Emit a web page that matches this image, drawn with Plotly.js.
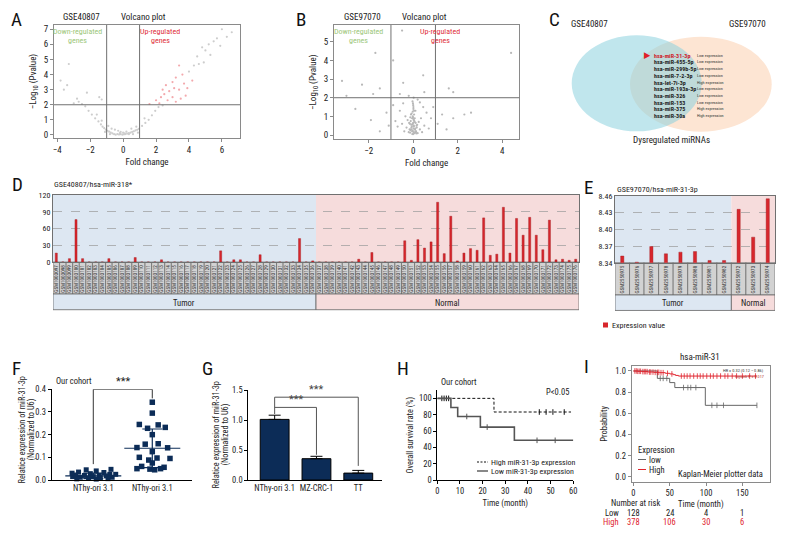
<!DOCTYPE html>
<html><head><meta charset="utf-8">
<script src="https://cdn.plot.ly/plotly-3.0.1.min.js"></script>
<style>html,body{margin:0;padding:0;background:#fff}#chart{width:792px;height:540px}</style>
</head><body><div id="chart"></div>
<script>
// ---------------- DATA ----------------
// A: volcano GSE40807
const volcA_greyX = [-0.55,-0.45,-0.35,-0.25,-0.15,-0.05,0.05,0.15,0.25,0.35,0.45,0.55,0.65,0.75,0.85,0.95,-0.65,-0.75,-0.85,-0.95,-1.05,-1.15,-1.25,-1.35,-1.5,-1.7,-1.9,-2.1,-0.3,0.2,-0.5,0.5,1.15,1.35,1.55,1.75,1.95,2.15,0.0,-0.15,0.35,-0.7,-1.6,-0.9,0.8,-0.2,0.1,-1.3,1.3,-2.3,2.4,0.6,-0.8,0.9,-1.1,-3.3,-3.8,-3.4,-2.8,-2.7,-2.2,-1.45,-1.3,-3.0,-2.5,-3.6,4.3,4.6,4.9,4.8,5.0,5.2,5.5,5.7,5.9,6.0,6.6,4.0,5.3,6.3,4.5];
const volcA_greyY = [0.05,0.02,0.06,0.03,0.05,0.02,0.04,0.06,0.09,0.12,0.15,0.2,0.24,0.3,0.34,0.4,0.1,0.15,0.22,0.28,0.35,0.45,0.55,0.7,0.9,1.1,1.35,1.6,0.28,0.22,0.35,0.42,0.6,0.8,1.0,1.3,1.6,1.85,0.15,0.2,0.05,0.42,1.35,0.6,0.55,0.12,0.1,0.95,1.1,1.9,1.95,0.05,0.05,0.15,0.2,4.7,3.6,3.3,2.4,2.2,2.8,2.5,2.35,2.1,2.05,3.0,4.6,4.7,4.8,5.8,5.6,6.0,6.2,6.4,5.9,7.0,6.8,4.2,5.3,6.5,5.2];
const volcA_redX = [1.6,2.0,2.3,2.4,2.5,2.6,2.8,3.0,3.0,3.2,3.2,3.4,3.4,3.6,3.8,3.9,2.2,3.5,4.2,2.7,3.1,3.7];
const volcA_redY = [2.05,2.3,2.5,3.0,2.7,3.3,2.9,3.5,2.5,3.8,2.2,3.0,4.6,4.0,2.6,3.1,2.1,2.4,3.6,2.3,3.1,3.4];
// B: volcano GSE97070
const volcB_X = [0,0.02,-0.02,0.01,0.03,-0.03,0,0.02,-0.01,0.04,-0.02,0.01,0,-0.03,0.02,0.1,-0.1,0.15,-0.15,0.2,-0.2,0.25,-0.25,0.3,-0.3,0.35,-0.35,0.4,-0.4,0.5,-0.5,0.6,-0.6,0.7,-0.7,0.8,-0.8,0.9,-0.9,1.1,-1.1,1.3,-1.2,0.45,-0.45,0.1,-0.1,0.2,-0.2,0.05,-0.05,0.3,-0.6,0.5,1.5,-1.5,1.8,2.3,-1.9,-1.7,-2.3,-3.2,-3.0,-1.5,-1.8,-0.5,-0.9,4.4,1.8,1.6,-0.45,0.45,-2.6,2.6,
  0.05,-0.05,0.08,-0.08,0.12,-0.12,0.03,-0.03,0.06,-0.06,0.09,-0.09,0.14,-0.14,0.02,-0.02,0.07,-0.07,0.11,-0.11,0.04,-0.04,0.16,-0.16,0.01,-0.01,0.13,-0.13,0.18,-0.18];
const volcB_Y = [0.05,0.15,0.25,0.35,0.45,0.55,0.65,0.8,0.95,1.1,1.25,1.4,1.6,1.8,2.0,0.2,0.3,0.5,0.6,0.1,0.15,0.7,0.8,0.3,0.4,0.9,1.0,0.15,0.2,0.5,0.6,1.2,1.3,0.35,0.45,0.9,0.75,1.5,1.6,0.6,0.5,1.1,1.2,1.5,1.7,1.3,1.1,1.9,2.1,0.75,0.9,1.75,2.2,2.3,0.3,0.2,0.9,1.1,0.8,4.4,2.7,2.9,2.1,2.5,2.2,5.6,4.0,4.4,2.3,2.5,2.8,3.2,1.4,1.2,
  0.1,0.2,0.3,0.4,0.15,0.25,0.5,0.6,0.7,0.45,0.35,0.55,0.08,0.12,0.85,1.0,0.9,1.15,0.65,0.75,1.3,0.05,0.4,0.3,1.5,1.7,0.2,0.95,0.55,0.65];
// C: Venn list
const vennNames = ['hsa-miR-31-3p','hsa-miR-455-5p','hsa-miR-299b-5p','hsa-miR-7-2-3p','hsa-let-7i-3p','hsa-miR-193a-3p','hsa-miR-326','hsa-miR-153','hsa-miR-375','hsa-miR-30a'];
const vennExpr = ['Low expression','Low expression','Low expression','Low expression','High expression','Low expression','Low expression','Low expression','High expression','High expression'];
// D: GSE40807 / hsa-miR-318*
const dTumorLabels = ['GSM1003097','GSM1003098','GSM1003099','GSM1003100','GSM1003101','GSM1003102','GSM1003103','GSM1003104','GSM1003105','GSM1003106','GSM1003107','GSM1003108','GSM1003109','GSM1003110','GSM1003111','GSM1003112','GSM1003113','GSM1003114','GSM1003115','GSM1003116','GSM1003117','GSM1003118','GSM1003119','GSM1003120','GSM1003121','GSM1003122','GSM1003123','GSM1003124','GSM1003125','GSM1003126','GSM1003127','GSM1003128','GSM1003129','GSM1003130','GSM1003131','GSM1003132','GSM1003133','GSM1003134','GSM1003135','GSM1003136'];
const dNormalLabels = ['GSM1003137','GSM1003138','GSM1003139','GSM1003140','GSM1003141','GSM1003142','GSM1003143','GSM1003144','GSM1003145','GSM1003146','GSM1003147','GSM1003148','GSM1003149','GSM1003150','GSM1003151','GSM1003152','GSM1003153','GSM1003154','GSM1003155','GSM1003156','GSM1003157','GSM1003158','GSM1003159','GSM1003160','GSM1003161','GSM1003162','GSM1003163','GSM1003164','GSM1003165','GSM1003166','GSM1003167','GSM1003168','GSM1003169','GSM1003170','GSM1003171','GSM1003172','GSM1003173','GSM1003174','GSM1003175','GSM1003176'];
const dTumorVals = [16,0,6,76,6,0,0,0,6,0, 0,0,8,0,0,0,4,0,0,0, 0,0,0,0,0,20,0,4,4,0, 0,13,0,0,0,0,0,42,0,2];
const dNormalVals = [0,0,0,0,0,0,5,0,17,0, 0,0,0,38,3,40,25,36,107,15, 82,2,16,24,21,79,12,14,98,16, 78,48,80,48,22,75,4,5,3,5];
// E: GSE97070 / hsa-miR-31-3p
const eTumorLabels = ['GSM2550975','GSM2550976','GSM2550977','GSM2550978','GSM2550979','GSM2550980','GSM2550981','GSM2550982'];
const eNormalLabels = ['GSM2550972','GSM2550973','GSM2550974'];
const eTumorVals = [8.352,8.341,8.369,8.356,8.359,8.360,8.344,8.344];
const eNormalVals = [8.436,8.386,8.455];
// F: our cohort
const fCats = ['NThy-ori 3.1','NThy-ori 3.1'];
const fNormalVals = [0.045,0.047,0.04,0.035,0.033,0.028,0.025,0.022,0.02,0.02,0.018,0.015,0.015,0.012,0.012,0.01,0.008,0.006,0.005,0.004,0.025,0.03];
const fNormalJit = [-0.12,0.3,0.05,-0.25,0.18,-0.05,0.28,-0.3,0.1,-0.15,0.22,-0.35,0.0,0.32,-0.22,0.12,-0.08,0.25,-0.28,0.05,0.38,-0.36];
const fTumorVals = [0.343,0.295,0.245,0.243,0.228,0.232,0.2,0.158,0.16,0.143,0.142,0.125,0.1,0.097,0.095,0.088,0.075,0.06,0.056,0.05,0.048,0.05,0.045];
const fTumorJit = [0,0,-0.22,0.1,-0.08,0.22,0,-0.12,0.1,-0.26,0.26,0,-0.22,0.08,0.3,-0.06,0,-0.18,0.2,-0.26,-0.04,0.14,0.04];
const fMeans = [0.018,0.14];
const fSD = [0.012,0.085];
// G: cell lines
const gCats = ['NThy-ori 3.1','MZ-CRC-1','TT'];
const gVals = [1.01,0.355,0.115];
const gErr = [0.07,0.04,0.045];
// H: our cohort survival
const hHighT = [0,25,59];
const hHighS = [100,83.3,83.3];
const hHighCensT = [2,3,4,5,45,48,51,56];
const hHighCensS = [100,100,100,100,83.3,83.3,83.3,83.3];
const hLowT = [0,6,9,19,34,60];
const hLowS = [100,88.9,77.8,64.8,48.6,48.6];
const hLowCensT = [13,22,44,52];
const hLowCensS = [77.8,64.8,48.6,48.6];
// I: KM plotter
const iHighT = [0,6,12,20,28,36,44,50,55,58,62,170];
const iHighS = [1,0.997,0.994,0.99,0.987,0.984,0.978,0.972,0.965,0.958,0.952,0.952];
const iHighCensT = [2,4,6,8,10,13,15,17,19,22,24,27,30,33,35,38,41,47,53,66,70,74,78,83,88,92,96,101,106,110,115,120,126,130,136,142,150,160,168];
const iHighCensS = [1,1,0.997,0.997,0.997,0.994,0.994,0.994,0.994,0.99,0.99,0.99,0.987,0.987,0.987,0.984,0.984,0.978,0.972,0.952,0.952,0.952,0.952,0.952,0.952,0.952,0.952,0.952,0.952,0.952,0.952,0.952,0.952,0.952,0.952,0.952,0.952,0.952,0.952];
const iLowT = [0,33,50,57,99,170];
const iLowS = [1,0.93,0.89,0.843,0.675,0.675];
const iLowCensT = [37,41,46,69,75,79,86,108,115,124,170];
const iLowCensS = [0.93,0.93,0.93,0.843,0.843,0.843,0.843,0.675,0.675,0.675,0.675];
const iRiskTimes = [0,50,100,150];
const iRiskLow = [128,24,4,1];
const iRiskHigh = [378,106,30,6];

// ---------------- HELPERS (layout only) ----------------
const W = 792, H = 540;
const FONT = '"Liberation Sans Narrow","Roboto Condensed","DejaVu Sans Condensed","Liberation Sans",sans-serif';
const px = x => x / W, py = y => 1 - y / H;
const dom = (a, b) => [a / W, b / W];
const domY = (t, b) => [1 - b / H, 1 - t / H];
function T(x, y, text, o) {
  const a = {xref:'paper', yref:'paper', x:px(x), y:py(y), text:text, showarrow:false,
    xanchor:'left', yanchor:'middle', font:{family:FONT, size:8, color:'#222'}, borderpad:0};
  return Object.assign(a, o || {});
}
const F = (size, color) => ({family:FONT, size:size, color:color || '#222'});
function ax(extra) {
  return Object.assign({showgrid:false, zeroline:false, showline:true, linecolor:'#000', linewidth:1,
    ticks:'outside', ticklen:3, tickwidth:1, tickcolor:'#000', tickfont:F(8.5), fixedrange:true}, extra);
}
const RED = '#d8262c', NAVY = '#0c2c57', KMRED = '#e0242e';

// ---------------- TRACES ----------------
const dLabels = dTumorLabels.concat(dNormalLabels);
const dVals = dTumorVals.concat(dNormalVals);
const eLabels = eTumorLabels.concat(eNormalLabels);
const eVals = eTumorVals.concat(eNormalVals);

const traces = [
  {type:'scatter', mode:'markers', x:volcA_greyX, y:volcA_greyY, xaxis:'x', yaxis:'y', marker:{size:2.2, color:'#cdcdcd'}, hoverinfo:'skip'},
  {type:'scatter', mode:'markers', x:volcA_redX, y:volcA_redY, xaxis:'x', yaxis:'y', marker:{size:2.2, color:'#f3a9ad'}, hoverinfo:'skip'},
  {type:'scatter', mode:'markers', x:volcB_X, y:volcB_Y, xaxis:'x2', yaxis:'y2', marker:{size:2.2, color:'#b8b8b8'}, hoverinfo:'skip'},
  {type:'bar', x:dLabels, y:dVals, xaxis:'x3', yaxis:'y3', width:0.32, marker:{color:RED, line:{color:'#a01a1e', width:0.4}}, name:'Expression value'},
  {type:'bar', x:eLabels, y:eVals, xaxis:'x4', yaxis:'y4', width:0.22, marker:{color:RED, line:{color:'#a01a1e', width:0.4}}},
  {type:'scatter', mode:'markers', x:fNormalJit.map(j => 0 + j), y:fNormalVals, xaxis:'x5', yaxis:'y5', cliponaxis:false, marker:{symbol:'square', size:5, color:NAVY}},
  {type:'scatter', mode:'markers', x:fTumorJit.map(j => 1 + j), y:fTumorVals, xaxis:'x5', yaxis:'y5', cliponaxis:false, marker:{symbol:'square', size:5.5, color:NAVY}},
  {type:'scatter', mode:'markers', x:[0,1], y:fMeans, xaxis:'x5', yaxis:'y5', cliponaxis:false,
    marker:{symbol:'line-ew-open', size:40, color:NAVY, line:{width:1.2, color:NAVY}},
    error_y:{type:'data', array:fSD, visible:true, color:NAVY, thickness:1.2, width:10}},
  {type:'bar', x:[0,1,2], y:gVals, xaxis:'x6', yaxis:'y6', width:0.69, marker:{color:NAVY, line:{color:'#000', width:1}},
    error_y:{type:'data', symmetric:false, array:gErr, arrayminus:[0,0,0], visible:true, color:'#000', thickness:1, width:6}},
  {type:'scatter', mode:'lines', x:hHighT, y:hHighS, xaxis:'x7', yaxis:'y7', cliponaxis:false, line:{shape:'hv', color:'#111', width:1, dash:'3px,2px'}},
  {type:'scatter', mode:'markers', x:hHighCensT, y:hHighCensS, xaxis:'x7', yaxis:'y7', cliponaxis:false, marker:{symbol:'line-ns-open', size:4, color:'#111', line:{width:1, color:'#111'}}},
  {type:'scatter', mode:'lines', x:hLowT, y:hLowS, xaxis:'x7', yaxis:'y7', cliponaxis:false, line:{shape:'hv', color:'#555', width:1.6}},
  {type:'scatter', mode:'markers', x:hLowCensT, y:hLowCensS, xaxis:'x7', yaxis:'y7', cliponaxis:false, marker:{symbol:'line-ns-open', size:4, color:'#555', line:{width:1, color:'#555'}}},
  {type:'scatter', mode:'lines', x:iLowT, y:iLowS, xaxis:'x8', yaxis:'y8', line:{shape:'hv', color:'#666', width:1}},
  {type:'scatter', mode:'markers', x:iLowCensT, y:iLowCensS, xaxis:'x8', yaxis:'y8', marker:{symbol:'line-ns-open', size:4, color:'#666', line:{width:0.8, color:'#666'}}},
  {type:'scatter', mode:'lines', x:iHighT, y:iHighS, xaxis:'x8', yaxis:'y8', line:{shape:'hv', color:KMRED, width:1}},
  {type:'scatter', mode:'markers', x:iHighCensT, y:iHighCensS, xaxis:'x8', yaxis:'y8', marker:{symbol:'line-ns-open', size:4, color:KMRED, line:{width:0.8, color:KMRED}}}
];

// ---------------- SHAPES ----------------
const shapes = [];
[['x','y'],['x2','y2']].forEach(function (p) {
  [-1, 1].forEach(function (v) {
    shapes.push({type:'line', xref:p[0], yref:p[1] + ' domain', x0:v, x1:v, y0:0, y1:1, line:{color:'#707070', width:1}});
  });
  shapes.push({type:'line', xref:p[0] + ' domain', yref:p[1], x0:0, x1:1, y0:2, y1:2, line:{color:'#707070', width:1}});
});
// Venn
shapes.push({type:'circle', xref:'paper', yref:'paper', x0:px(630), x1:px(771.7), y0:py(131.7), y1:py(36.7), fillcolor:'#fde5d3', line:{width:0}, layer:'below'});
shapes.push({type:'circle', xref:'paper', yref:'paper', x0:px(571.7), x1:px(701.7), y0:py(131.3), y1:py(35.3), fillcolor:'rgba(140,210,222,0.55)', line:{width:0}, layer:'below'});
// D / E group backgrounds, label cells, group bands
function groupPanel(xr, yr, nT, nAll, cellH, bandH) {
  const yd = yr + ' domain';
  shapes.push({type:'rect', xref:xr, yref:yd, x0:-0.5, x1:nT - 0.5, y0:0, y1:1, fillcolor:'#dde7f2', line:{width:0}, layer:'below'});
  shapes.push({type:'rect', xref:xr, yref:yd, x0:nT - 0.5, x1:nAll - 0.5, y0:0, y1:1, fillcolor:'#f6dcdc', line:{width:0}, layer:'below'});
  for (let i = 0; i < nAll; i++) {
    shapes.push({type:'rect', xref:xr, yref:yd, x0:i - 0.5, x1:i + 0.5, y0:-cellH, y1:0, fillcolor:'#d2d2d2', line:{color:'#555', width:0.6}, layer:'below'});
  }
  shapes.push({type:'rect', xref:xr, yref:yd, x0:-0.5, x1:nT - 0.5, y0:-cellH - bandH, y1:-cellH, fillcolor:'#dde7f2', line:{color:'#666', width:0.8}, layer:'below'});
  shapes.push({type:'rect', xref:xr, yref:yd, x0:nT - 0.5, x1:nAll - 0.5, y0:-cellH - bandH, y1:-cellH, fillcolor:'#f6dcdc', line:{color:'#666', width:0.8}, layer:'below'});
}
groupPanel('x3', 'y3', dTumorLabels.length, dLabels.length, 0.478, 0.234);
groupPanel('x4', 'y4', eTumorLabels.length, eLabels.length, 0.484, 0.232);
shapes.push({type:'rect', xref:'paper', yref:'paper', x0:px(603), x1:px(608), y0:py(327.5), y1:py(322.5), fillcolor:RED, line:{width:0}});
// F bracket
shapes.push({type:'path', xref:'x5', yref:'y5', path:'M 0 0.07 L 0 0.4 L 1 0.4 L 1 0.36', line:{color:'#333', width:1}});
// G brackets
shapes.push({type:'path', xref:'x6', yref:'y6', path:'M 0 1.1 L 0 1.38 L 2 1.38 L 2 0.235', line:{color:'#555', width:1}});
shapes.push({type:'path', xref:'x6', yref:'y6', path:'M 0 1.21 L 1 1.21 L 1 0.42', line:{color:'#555', width:1}});
// H legend samples
shapes.push({type:'line', xref:'paper', yref:'paper', x0:px(477), x1:px(488), y0:py(462), y1:py(462), line:{color:'#111', width:1, dash:'2px,1.5px'}});
shapes.push({type:'line', xref:'paper', yref:'paper', x0:px(477), x1:px(488), y0:py(471), y1:py(471), line:{color:'#555', width:1.4}});
// I legend samples
shapes.push({type:'line', xref:'paper', yref:'paper', x0:px(638), x1:px(646), y0:py(459.5), y1:py(459.5), line:{color:'#666', width:1}});
shapes.push({type:'line', xref:'paper', yref:'paper', x0:px(638), x1:px(646), y0:py(469.5), y1:py(469.5), line:{color:KMRED, width:1}});

// ---------------- ANNOTATIONS ----------------
const ann = [];
const L = (x, y, t) => ann.push(T(x, y, t, {font:F(19, '#111')}));
L(10, 20, 'A'); L(295, 20, 'B'); L(548, 20, 'C'); L(11, 185, 'D'); L(583, 187, 'E');
L(11, 368, 'F'); L(201, 368, 'G'); L(396, 368, 'H'); L(583, 366, 'I');
ann.push(T(62, 17, 'GSE40807', {font:F(9)}));
ann.push(T(120, 17, 'Volcano plot', {font:F(9)}));
ann.push(T(343, 17, 'GSE97070', {font:F(9)}));
ann.push(T(401, 17, 'Volcano plot', {font:F(9)}));
const GREEN = '#9cc77a', URED = '#e0303a';
ann.push(T(77, 31.5, 'Down-regulated', {xanchor:'center', font:F(8, GREEN)}));
ann.push(T(77, 40.5, 'genes', {xanchor:'center', font:F(8, GREEN)}));
ann.push(T(160, 31.5, 'Up-regulated', {xanchor:'center', font:F(8, URED)}));
ann.push(T(160, 40.5, 'genes', {xanchor:'center', font:F(8, URED)}));
ann.push(T(358, 31.5, 'Down-regulated', {xanchor:'center', font:F(8, GREEN)}));
ann.push(T(358, 40.5, 'genes', {xanchor:'center', font:F(8, GREEN)}));
ann.push(T(440, 31.5, 'Up-regulated', {xanchor:'center', font:F(8, URED)}));
ann.push(T(440, 40.5, 'genes', {xanchor:'center', font:F(8, URED)}));
// C
ann.push(T(570, 24, 'GSE40807', {font:F(9)}));
ann.push(T(728, 24, 'GSE97070', {font:F(9)}));
ann.push(T(671.7, 140, 'Dysregulated miRNAs', {xanchor:'center', font:F(9)}));
vennNames.forEach(function (n, i) {
  const yy = 55 + i * 6.75;
  ann.push(T(652.5, yy, '<b>' + n + '</b>', {font:F(6.0, i === 0 ? '#d0202a' : '#1e1e1e')}));
  ann.push(T(696, yy, vennExpr[i], {font:F(4.2, '#333')}));
});
ann.push(T(652, 55, '▶', {xanchor:'right', font:F(9, '#e0202a')}));
// D / E
ann.push(T(53, 185, 'GSE40807/hsa-miR-318*', {font:F(8)}));
ann.push(T(616, 189, 'GSE97070/hsa-miR-31-3p', {font:F(8)}));
ann.push(T(184, 303, 'Tumor', {xanchor:'center', font:F(8.5)}));
ann.push(T(447, 303, 'Normal', {xanchor:'center', font:F(8.5)}));
ann.push(T(673, 303, 'Tumor', {xanchor:'center', font:F(8.5)}));
ann.push(T(753, 303, 'Normal', {xanchor:'center', font:F(8.5)}));
ann.push(T(611, 325, 'Expression value', {font:F(8)}));
// F
ann.push(T(55, 381, 'Our cohort', {font:F(8.5)}));
ann.push(T(21.5, 430, 'Relatice expression of miR-31-3p', {xanchor:'center', textangle:-90, font:F(8.3)}));
ann.push(T(30.5, 430, '(Normalized to U6)', {xanchor:'center', textangle:-90, font:F(8.3)}));
ann.push({xref:'x5', yref:'y5', x:0.5, y:0.4, yanchor:'bottom', text:'***', showarrow:false, font:F(11, '#222'), borderpad:0});
// G
ann.push(T(215.5, 435, 'Relatice expression of miR-31-3p', {xanchor:'center', textangle:-90, font:F(8.3)}));
ann.push(T(224.5, 435, '(Normalized to U6)', {xanchor:'center', textangle:-90, font:F(8.3)}));
ann.push({xref:'x6', yref:'y6', x:0.5, y:1.21, yanchor:'bottom', text:'***', showarrow:false, font:F(11, '#444'), borderpad:0});
ann.push({xref:'x6', yref:'y6', x:1.0, y:1.38, yanchor:'bottom', text:'***', showarrow:false, font:F(11, '#444'), borderpad:0});
// H
ann.push(T(440, 382, 'Our cohort', {font:F(8.5)}));
ann.push(T(545, 392, 'P<0.05', {font:F(8.5)}));
ann.push(T(490, 462, 'High miR-31-3p expression', {font:F(8)}));
ann.push(T(490, 471, 'Low miR-31-3p expression', {font:F(8)}));
// I
ann.push(T(700, 357, 'hsa-miR-31', {xanchor:'center', font:F(9)}));
ann.push(T(765, 370.5, 'HR = 0.32 (0.12 − 0.86)', {xanchor:'right', font:F(4.4, '#333')}));
ann.push(T(765, 376, 'logrank P = 0.017', {xanchor:'right', font:F(4.2, '#b03030')}));
ann.push(T(637, 450, 'Expression', {font:F(8.5)}));
ann.push(T(648, 459.5, 'low', {font:F(8.5)}));
ann.push(T(648, 469.5, 'High', {font:F(8.5)}));
ann.push(T(677, 474, 'Kaplan-Meier plotter data', {font:F(8.5)}));
ann.push(T(610, 503, 'Number at risk', {font:F(8.5)}));
ann.push(T(620, 513, 'Low', {xanchor:'right', font:F(8.5)}));
ann.push(T(620, 522, 'High', {xanchor:'right', font:F(8.5, KMRED)}));
iRiskTimes.forEach(function (t, k) {
  ann.push({xref:'x8', yref:'paper', x:t, y:py(513), text:String(iRiskLow[k]), showarrow:false, xanchor:'center', yanchor:'middle', font:F(8.5)});
  ann.push({xref:'x8', yref:'paper', x:t, y:py(522), text:String(iRiskHigh[k]), showarrow:false, xanchor:'center', yanchor:'middle', font:F(8.5, KMRED)});
});

// ---------------- LAYOUT ----------------
const grey = '#8a8a8a';
const volc = (extra) => ax(Object.assign({linecolor:grey, tickcolor:grey, mirror:true, tickfont:F(9)}, extra));
const layout = {
  width:W, height:H, margin:{l:0, r:0, t:0, b:0}, paper_bgcolor:'#fff', plot_bgcolor:'rgba(0,0,0,0)',
  showlegend:false, font:{family:FONT, size:8, color:'#222'}, hovermode:false,
  xaxis: volc({domain:dom(54,240), anchor:'y', range:[-4.2,7.1], tickvals:[-4,-2,0,2,4,6], title:{text:'Fold change', font:F(9), standoff:4}}),
  yaxis: volc({domain:domY(25,138), anchor:'x', range:[-0.2,7.28], tickvals:[0,1,2,3,4,5,6,7], title:{text:'−Log<sub>10</sub> (Pvalue)', font:F(9), standoff:5}}),
  xaxis2: volc({domain:dom(334,519.3), anchor:'y2', range:[-3.56,4.77], tickvals:[-2,0,2,4], title:{text:'Fold change', font:F(9), standoff:4}}),
  yaxis2: volc({domain:domY(25,139.3), anchor:'x2', range:[-0.23,5.9], tickvals:[0,1,2,3,4,5], title:{text:'−Log<sub>10</sub> (Pvalue)', font:F(9), standoff:5}}),
  xaxis3: {domain:dom(53,579), anchor:'y3', type:'category', range:[-0.5, dLabels.length - 0.5], tickmode:'array', tickvals:dLabels, ticktext:dLabels,
    tickangle:-90, tickfont:F(5.2, '#333'), ticks:'', showline:true, mirror:true, linecolor:'#707070', showgrid:false, zeroline:false, fixedrange:true},
  yaxis3: {domain:domY(195,262), anchor:'x3', range:[0,120], tickvals:[0,30,60,90,120], showgrid:true, gridcolor:'#9a9a9a', griddash:'dash', gridwidth:0.7,
    ticks:'', showline:true, mirror:true, linecolor:'#707070', tickfont:F(8), zeroline:false, fixedrange:true},
  xaxis4: {domain:dom(615,775), anchor:'y4', type:'category', range:[-0.5, eLabels.length - 0.5], tickmode:'array', tickvals:eLabels, ticktext:eLabels,
    tickangle:-90, tickfont:F(5.2, '#333'), ticks:'', showline:true, mirror:true, linecolor:'#707070', showgrid:false, zeroline:false, fixedrange:true},
  yaxis4: {domain:domY(196,262.7), anchor:'x4', range:[8.34,8.46], tickvals:[8.34,8.37,8.40,8.43,8.46], tickformat:'.2f', showgrid:true, gridcolor:'#9a9a9a',
    griddash:'dash', gridwidth:0.7, ticks:'', showline:true, mirror:true, linecolor:'#707070', tickfont:F(8), zeroline:false, fixedrange:true},
  xaxis5: ax({domain:dom(51.7,191.7), anchor:'y5', range:[-0.705,1.668], tickvals:[0,1], ticktext:fCats, ticks:''}),
  yaxis5: ax({domain:domY(389.3,480), anchor:'x5', range:[0,0.4], tickvals:[0,0.1,0.2,0.3,0.4], tickformat:'.1f'}),
  xaxis6: ax({domain:dom(248.3,381.7), anchor:'y6', range:[-0.63,2.56], tickvals:[0,1,2], ticktext:gCats, ticks:''}),
  yaxis6: ax({domain:domY(390,480), anchor:'x6', range:[0,1.5], tickvals:[0,0.5,1,1.5], tickformat:'.1f'}),
  xaxis7: ax({domain:dom(437.3,573.3), anchor:'y7', range:[0,60], tickvals:[0,10,20,30,40,50,60], title:{text:'Time (month)', font:F(8.5), standoff:4}}),
  yaxis7: ax({domain:domY(390.2,480), anchor:'x7', range:[0,110], tickvals:[0,20,40,60,80,100], title:{text:'Overall survival rate (%)', font:F(8.3), standoff:4}}),
  xaxis8: ax({domain:dom(631.7,770), anchor:'y8', range:[-2.3,188], tickvals:[0,50,100,150], mirror:true, linecolor:grey, tickcolor:grey,
    title:{text:'Time (month)', font:F(8.5), standoff:4}}),
  yaxis8: ax({domain:domY(366,481.7), anchor:'x8', range:[-0.047,1.047], tickvals:[0,0.2,0.4,0.6,0.8,1.0], tickformat:'.1f', mirror:true, linecolor:grey, tickcolor:grey,
    title:{text:'Probability', font:F(8.5), standoff:6}}),
  shapes: shapes,
  annotations: ann
};

Plotly.newPlot('chart', traces, layout, {displayModeBar:false, staticPlot:true});
</script></body></html>
